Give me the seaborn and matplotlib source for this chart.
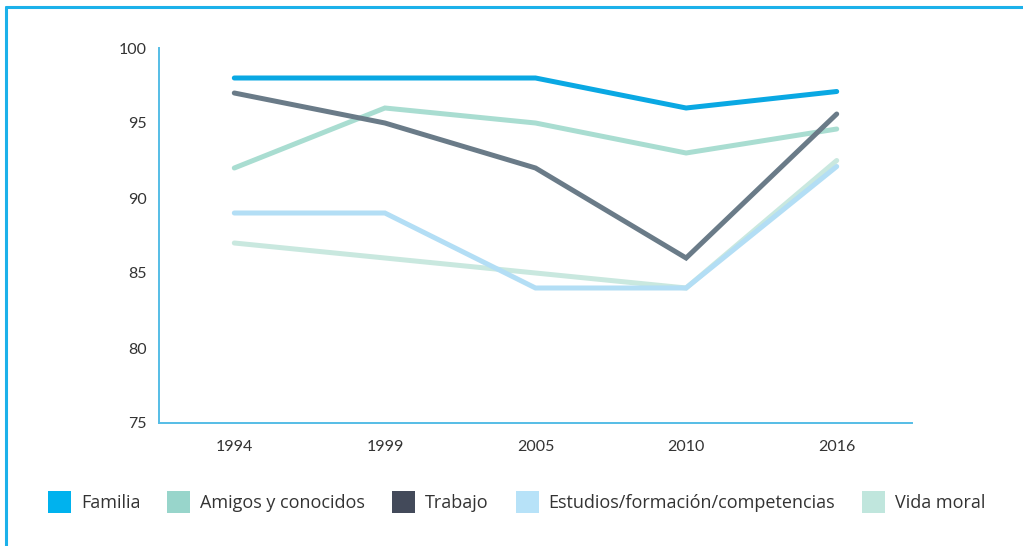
import matplotlib
matplotlib.use("Agg")
import matplotlib.pyplot as plt
from matplotlib.lines import Line2D
from matplotlib.patches import Patch
import seaborn as sns
import pandas as pd

years = ["1994", "1999", "2005", "2010", "2016"]
familia = [98, 98, 98, 96, 97.1]
amigos = [92, 96, 95, 93, 94.6]
trabajo = [97, 95, 92, 86, 95.6]
estudios = [89, 89, 84, 84, 92.1]
vida_moral = [87, 86, 85, 84, 92.5]

series_names = ["Familia", "Amigos y conocidos", "Trabajo",
                "Estudios/formación/competencias", "Vida moral"]
line_colors = ["#0AA8E3", "#A9DDD1", "#6A7B88", "#B3DEF5", "#C9E8DF"]
legend_colors = ["#00B2EE", "#98D5CB", "#434A5A", "#B7E2F8", "#C0E6DD"]

rows = []
for name, vals in zip(series_names, [familia, amigos, trabajo, estudios, vida_moral]):
    for i, (yr, v) in enumerate(zip(years, vals)):
        rows.append({"idx": i, "year": yr, "value": v, "serie": name})
df = pd.DataFrame(rows)

sns.set_style("white")
plt.rcParams["font.family"] = ["Lato", "DejaVu Sans"]

fig = plt.figure(figsize=(10.23, 5.46), dpi=100)
ax = fig.add_axes([159 / 1023, 1 - 423 / 546, (912 - 159) / 1023, (423 - 48) / 546])

draw_order = ["Vida moral", "Estudios/formación/competencias",
              "Amigos y conocidos", "Trabajo", "Familia"]
palette = dict(zip(series_names, line_colors))
for name in draw_order:
    sns.lineplot(data=df[df["serie"] == name], x="idx", y="value",
                 color=palette[name], linewidth=3.6, ax=ax, sort=False,
                 legend=False, solid_capstyle="round", solid_joinstyle="miter")

ax.set_xlim(-0.5, 4.5)
ax.set_ylim(75, 100)
ax.set_xticks(range(len(years)))
ax.set_xticklabels(years)
ax.set_yticks([75, 80, 85, 90, 95, 100])
ax.set_xlabel("")
ax.set_ylabel("")
ax.tick_params(length=0, labelsize=11.5, labelcolor="#333333")
ax.tick_params(axis="x", pad=12)
ax.tick_params(axis="y", pad=9)
for side in ["top", "right"]:
    ax.spines[side].set_visible(False)
for side in ["left", "bottom"]:
    ax.spines[side].set_color("#55BDE6")
    ax.spines[side].set_linewidth(1.4)

# frame along the top and left edges of the figure
fig.add_artist(Line2D([6 / 1023, 1], [1 - 7 / 546, 1 - 7 / 546],
                      color="#1CB1EA", lw=2.2, transform=fig.transFigure))
fig.add_artist(Line2D([6 / 1023, 6 / 1023], [0, 1 - 7 / 546],
                      color="#1CB1EA", lw=2.2, transform=fig.transFigure))

handles = [Patch(facecolor=c, edgecolor="none") for c in legend_colors]
fig.legend(handles, series_names, loc="center left",
           bbox_to_anchor=(48 / 1023, 1 - 502 / 546), ncol=5, frameon=False,
           prop={"family": ["Open Sans", "DejaVu Sans"], "size": 13},
           handlelength=1.27, handleheight=1.58, handletextpad=0.55,
           columnspacing=1.5, borderpad=0, borderaxespad=0,
           labelcolor="#333333")

fig.savefig("out.png", dpi=100)
